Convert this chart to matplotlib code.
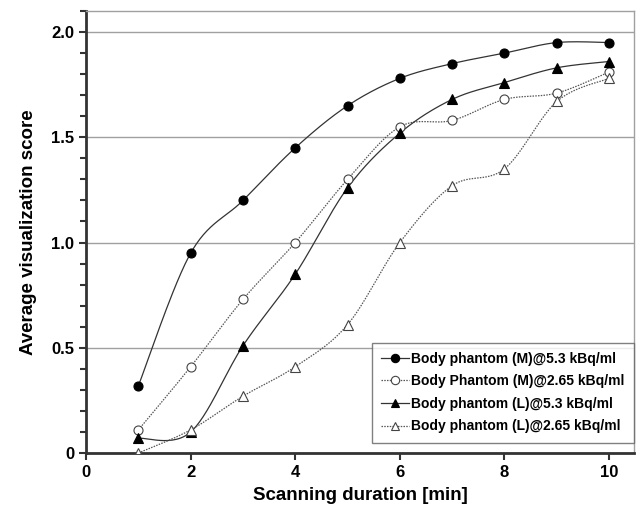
import numpy as np
import matplotlib
matplotlib.use('Agg')
import matplotlib.pyplot as plt
from matplotlib.ticker import MultipleLocator

plt.rcParams['font.family'] = ['Liberation Sans', 'DejaVu Sans']
plt.rcParams['font.weight'] = 'bold'

duration = [1, 2, 3, 4, 5, 6, 7, 8, 9, 10]
m_53 = [0.32, 0.95, 1.20, 1.45, 1.65, 1.78, 1.85, 1.90, 1.95, 1.95]
m_265 = [0.11, 0.41, 0.73, 1.00, 1.30, 1.55, 1.58, 1.68, 1.71, 1.81]
l_53 = [0.07, 0.10, 0.51, 0.85, 1.26, 1.52, 1.68, 1.76, 1.83, 1.86]
l_265 = [0.00, 0.11, 0.27, 0.41, 0.61, 1.00, 1.27, 1.35, 1.67, 1.78]
labels = ['Body phantom (M)@5.3 kBq/ml', 'Body Phantom (M)@2.65 kBq/ml',
          'Body phantom (L)@5.3 kBq/ml', 'Body phantom (L)@2.65 kBq/ml']


def smooth(x, y, n=30):
    # excel-like smoothed line: cubic bezier through points, catmull-rom tangents
    x = np.asarray(x, float)
    y = np.asarray(y, float)
    pts = np.column_stack([x, y])
    p = np.vstack([pts[0], pts, pts[-1]])
    out = []
    t = np.linspace(0, 1, n)[:, None]
    for i in range(1, len(p) - 2):
        p0, p1, p2, p3 = p[i - 1], p[i], p[i + 1], p[i + 2]
        c1 = p1 + (p2 - p0) / 6.0
        c2 = p2 - (p3 - p1) / 6.0
        seg = ((1 - t) ** 3) * p1 + 3 * ((1 - t) ** 2) * t * c1 + 3 * (1 - t) * t ** 2 * c2 + t ** 3 * p2
        out.append(seg if i == 1 else seg[1:])
    out = np.vstack(out)
    return out[:, 0], out[:, 1]


fig = plt.figure(figsize=(6.38, 5.11), dpi=100)
ax = fig.add_axes([0.135, 0.1135, 0.859, 0.865])

series = [
    (m_53, 'o', 'black', '-', '#333333', 0.9),
    (m_265, 'o', 'white', (0, (1.2, 1.0)), '#555555', 0.9),
    (l_53, '^', 'black', '-', '#333333', 0.9),
    (l_265, '^', 'white', (0, (1.2, 1.0)), '#555555', 0.9),
]
handles = []
for (vals, mk, fc, ls, lc, lw), lab in zip(series, labels):
    sx, sy = smooth(duration, vals)
    ax.plot(sx, sy, ls=ls, color=lc, lw=lw, zorder=3)
    ax.plot(duration, vals, ls='none', marker=mk, ms=6.5, mfc=fc, mec='black' if fc == 'black' else '#444444',
            mew=0.8, zorder=4)
    h, = ax.plot([], [], ls=ls, color=lc, lw=lw, marker=mk, ms=6, mfc=fc,
                 mec='black' if fc == 'black' else '#444444', mew=0.8)
    handles.append(h)

ax.set_xlim(0, 10.48)
ax.set_ylim(0, 2.1)
ax.set_xticks([0, 2, 4, 6, 8, 10])
ax.set_yticks([0, 0.5, 1.0, 1.5, 2.0])
ax.set_yticklabels(['0', '0.5', '1.0', '1.5', '2.0'])
ax.yaxis.set_minor_locator(MultipleLocator(0.1))
ax.grid(axis='y', which='major', color='#a0a0a0', lw=1.0)
ax.set_axisbelow(True)
ax.tick_params(axis='both', which='major', direction='out', length=5, width=1.5, labelsize=12, color='#333333')
ax.tick_params(axis='y', which='minor', direction='out', length=4, width=1.5, color='#333333')
for s in ['left', 'bottom']:
    ax.spines[s].set_linewidth(2.0)
    ax.spines[s].set_color('#333333')
for s in ['top', 'right']:
    ax.spines[s].set_linewidth(1.0)
    ax.spines[s].set_color('#a0a0a0')

ax.set_xlabel('Scanning duration [min]', fontsize=13.5, fontweight='bold', labelpad=5)
ax.set_ylabel('Average visualization score', fontsize=13.5, fontweight='bold', labelpad=10)

leg = ax.legend(handles, labels, loc='lower right', bbox_to_anchor=(1.012, 0.008), fontsize=10,
                frameon=True, fancybox=False, edgecolor='#606060', handlelength=2.0,
                handletextpad=0.2, borderpad=0.65, labelspacing=0.62)
leg.get_frame().set_linewidth(1.0)
for t in leg.get_texts():
    t.set_fontweight('bold')

fig.savefig('out.png', dpi=100)
